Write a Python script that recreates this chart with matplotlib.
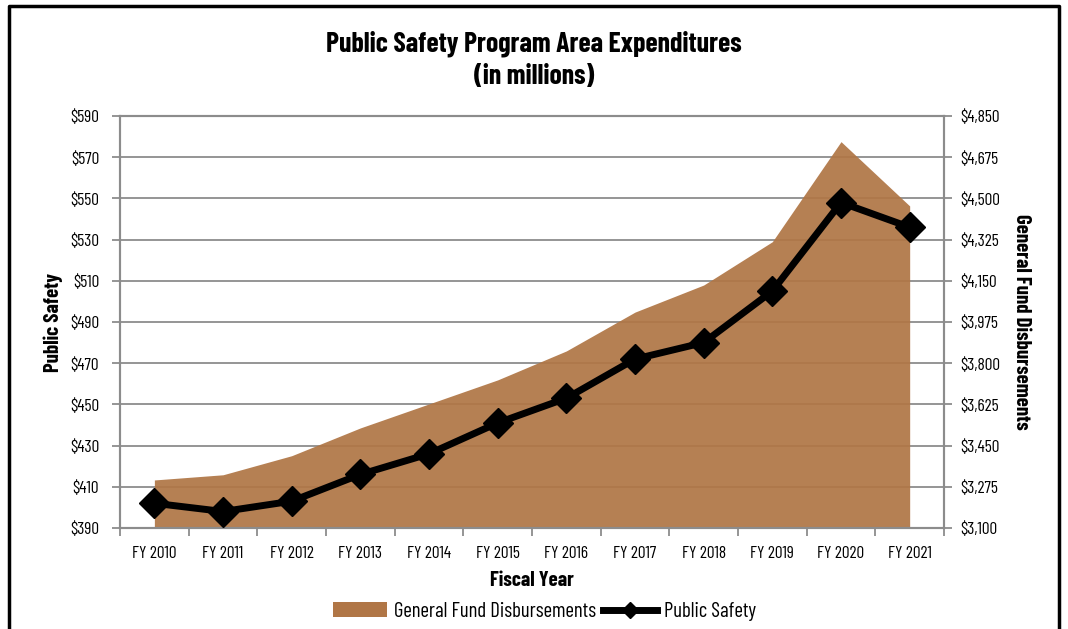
import matplotlib
matplotlib.use("Agg")
from matplotlib import pyplot as plt
from matplotlib.lines import Line2D
from matplotlib.patches import Patch

plt.rcParams['font.family'] = ['Barlow Condensed', 'DejaVu Sans']

years = ["FY 2010", "FY 2011", "FY 2012", "FY 2013", "FY 2014", "FY 2015",
         "FY 2016", "FY 2017", "FY 2018", "FY 2019", "FY 2020", "FY 2021"]
public_safety = [402, 398, 403, 416, 426, 441, 453, 472, 480, 505, 548, 536]
general_fund = [3304, 3326, 3407, 3525, 3627, 3729, 3852, 4017, 4132, 4316, 4741, 4468]

left_ticks = list(range(390, 591, 20))
right_ticks = list(range(3100, 4851, 175))

brown = "#B07646"
grid_gray = "#8c8c8c"

fig = plt.figure(figsize=(10.68, 6.29), dpi=100)
ax = fig.add_axes([0.1124, 0.1606, 0.7715, 0.655])
ax2 = ax.twinx()
ax.set_zorder(2)
ax2.set_zorder(1)
ax.patch.set_visible(False)

x = list(range(len(years)))

# area on the right axis, behind everything
ax2.set_ylim(3100, 4850)
ax2.set_yticks(right_ticks)
ax2.set_yticklabels(["${:,}".format(v) for v in right_ticks])
for v in right_ticks[1:]:
    ax2.axhline(v, color=grid_gray, lw=1.3, zorder=0)
ax2.fill_between(x, general_fund, 3100, color=brown, alpha=0.93, lw=0, zorder=1)

# line on the left axis
ax.plot(x, public_safety, color="black", lw=5, marker="D", markersize=15, zorder=3)
ax.set_ylim(390, 590)
ax.set_yticks(left_ticks)
ax.set_yticklabels(["${}".format(v) for v in left_ticks])
ax.set_xlim(-0.5, len(years) - 0.5)
ax.set_xticks(x)
ax.set_xticklabels(years)
ax.set_xticks([i - 0.5 for i in range(len(years) + 1)], minor=True)
ax.tick_params(axis="x", which="major", length=0, pad=13, labelsize=12.5)
ax.tick_params(axis="x", which="minor", length=6, color=grid_gray, width=1.3)
ax.tick_params(axis="y", length=6, color=grid_gray, width=1.3, labelsize=12.5, pad=9)
ax2.tick_params(axis="y", length=6, color=grid_gray, width=1.3, labelsize=12.5, pad=6)

for a in (ax, ax2):
    for s in a.spines.values():
        s.set_color(grid_gray)
        s.set_linewidth(1.5)

ax.set_ylabel("Public Safety", fontsize=15, fontweight="bold", labelpad=5)
ax2.set_ylabel("General Fund Disbursements", fontsize=15, fontweight="bold",
               rotation=270, labelpad=22)
ax.set_xlabel("Fiscal Year", fontsize=15, fontweight="bold", labelpad=7)

fig.text(0.5, 0.93, "Public Safety Program Area Expenditures", ha="center",
         va="center", fontsize=20, fontweight="bold")
fig.text(0.5, 0.878, "(in millions)", ha="center", va="center",
         fontsize=20, fontweight="bold")

handles = [Patch(facecolor=brown, edgecolor="none"),
           Line2D([0], [0], color="black", lw=5, marker="D", markersize=8)]
fig.legend(handles, ["General Fund Disbursements", "Public Safety"],
           loc="center", bbox_to_anchor=(0.51, 0.028), ncol=2, frameon=False,
           fontsize=15, handlelength=2.6, handletextpad=0.35, columnspacing=0.3)

# outer frame (bottom cut off)
fig.add_artist(Line2D([0.008, 0.008, 0.992, 0.992], [0.0, 0.991, 0.991, 0.0],
                      transform=fig.transFigure, color="black", lw=2.5))

fig.savefig("out.png", dpi=100)
